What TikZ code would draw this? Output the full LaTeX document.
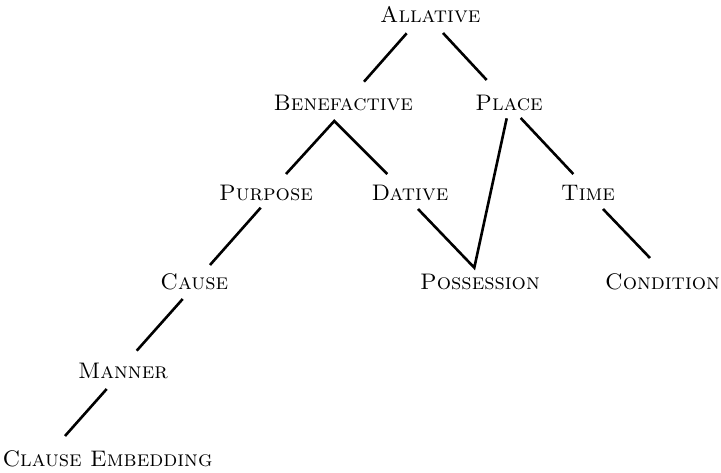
\documentclass[tikz,border=0pt]{standalone}
\usepackage{tikz}
\usetikzlibrary{calc}
\tikzstyle{term} = [inner sep=0pt, font=\fontsize{22.5}{26}\selectfont\scshape]
\tikzstyle{branch} = [line width=2.6pt]

\begin{document}
\begin{tikzpicture}[x=1pt, y=-1pt]
\useasboundingbox (0,0) rectangle (721,473);
\node (allative) [term] at (430.3,15) {Allative};
\node (benefactive) [term] at (343.3,103) {Benefactive};
\node (place) [term] at (509,103) {Place};
\node (purpose) [term] at (266,193) {Purpose};
\node (dative) [term] at (410,193) {Dative};
\node (time) [term] at (588,193) {Time};
\node (cause) [term] at (194.3,282) {Cause};
\node (possession) [term] at (480,282) {Possession};
\node (condition) [term] at (662.5,282) {Condition};
\node (manner) [term] at (123,371) {Manner};
\node (clause) [term] at (107.5,459) {Clause Embedding};

\draw [branch] ($(allative)+(-23.6,18.3)$) -- ($(benefactive)+(20.7,-21.3)$);
\draw [branch] ($(allative)+(12.7,18)$) -- ($(place)+(-22.3,-23)$);
\draw [branch] ($(purpose)+(20,-19)$) -- ($(benefactive)+(-9,18)$) -- ($(dative)+(-22.7,-19)$);
\draw [branch] ($(place)+(11.7,15)$) -- ($(time)+(-14.7,-19)$);
\draw [branch] ($(place)+(-2.3,15.3)$) -- ($(possession)+(-5.7,-14.3)$) -- ($(dative)+(8,16)$);
\draw [branch] ($(purpose)+(-5.3,14.7)$) -- ($(cause)+(15.7,-17)$);
\draw [branch] ($(time)+(15,16)$) -- ($(condition)+(-12.5,-24)$);
\draw [branch] ($(cause)+(-11.6,17)$) -- ($(manner)+(13.7,-20.3)$);
\draw [branch] ($(manner)+(-16.3,18)$) -- ($(clause)+(-42.5,-23)$);
\end{tikzpicture}
\end{document}
